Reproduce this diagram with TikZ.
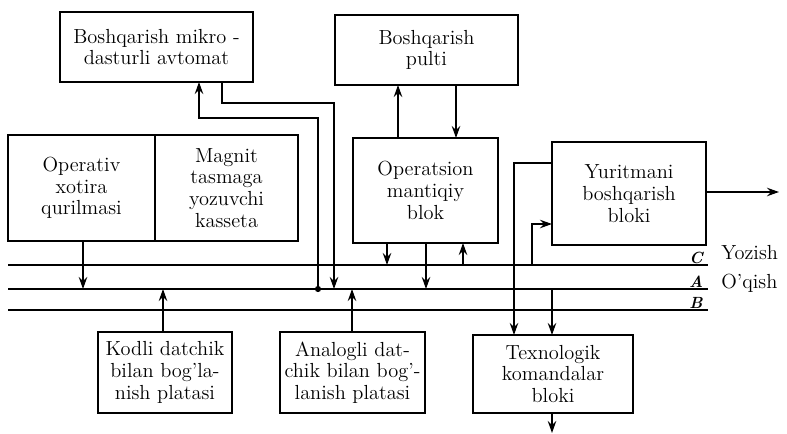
\documentclass[tikz,border=0pt]{standalone}
\usepackage{fontspec}
\usetikzlibrary{arrows.meta}
\usetikzlibrary{calc}

\begin{document}
\begin{tikzpicture}[x=0.025cm, y=-0.025cm,
    blok/.style={draw, line width=1.3pt, outer sep=0pt, align=center, inner sep=0pt, font=\fontsize{14.5}{15.5}\selectfont},
    strel/.style={line width=1.1pt, -{Stealth[length=8.5pt, width=6pt]}},
    shina/.style={line width=1.4pt},
    bukva/.style={anchor=south, inner sep=1pt, font=\bfseries\itshape\fontsize{11.5}{11.5}\selectfont},
    yozuv/.style={anchor=west, inner sep=0pt, font=\fontsize{14.5}{15.5}\selectfont}]
  \useasboundingbox (0,0) rectangle (787,433);

  % bloklar
  \node[blok, minimum width=4.825cm, minimum height=1.75cm] (mpa) at (156.5,47) {Boshqarish mikro -\\dasturli avtomat};
  \node[blok, minimum width=4.575cm, minimum height=1.75cm] (pult) at (426.5,50) {Boshqarish\\pulti};
  \node[blok, minimum width=3.675cm, minimum height=2.65cm] (oxq) at (81.5,188) {Operativ\\xotira\\qurilmasi};
  \node[blok, minimum width=3.575cm, minimum height=2.65cm, anchor=west] (mtk) at (oxq.east) {Magnit\\tasmaga\\yozuvchi\\kasseta};
  \node[blok, minimum width=3.625cm, minimum height=2.625cm] (oml) at (425.5,190.5) {Operatsion\\mantiqiy\\blok};
  \node[blok, minimum width=3.85cm, minimum height=2.575cm] (ybb) at (629,193.5) {Yuritmani\\boshqarish\\bloki};
  \node[blok, minimum width=3.35cm, minimum height=2.025cm] (kodli) at (165,372.5) {Kodli datchik\\bilan bog'la-\\nish platasi};
  \node[blok, minimum width=3.625cm, minimum height=2.025cm] (analog) at (352.5,372.5) {Analogli dat-\\chik bilan bog'-\\lanish platasi};
  \node[blok, minimum width=4cm, minimum height=1.95cm] (texn) at (553,374) {Texnologik\\komandalar\\bloki};

  % shinalar C, A, B
  \foreach \y/\b in {265/C, 289/A, 310/B} {
    \draw[shina] (8,\y) coordinate (bus\b) -- (708,\y) coordinate (bus\b e);
    \node[bukva] (harf\b) at (696,\y) {\b};
  }
  \node[yozuv] (yoz) at (721,253) {Yozish};
  \node[yozuv] (oqi) at (721,283) {O'qish};

  % ulanishlar
  \draw[strel] (oxq.south -| 83,0) -- (83,0 |- busA);
  \draw[strel] (kodli.north -| 163,0) -- (163,0 |- busA);
  \draw[strel] (analog.north -| 352,0) -- (352,0 |- busA);

  \coordinate (tug) at (318,0 |- busA);
  \fill (tug) circle (2.2pt);
  \draw[strel] (tug) |- (199,118) -- (mpa.south -| 199,0);
  \draw[strel] (mpa.south -| 222,0) |- (334,103) -- (334,0 |- busA);

  \draw[strel] (oml.north -| 398,0) -- (pult.south -| 398,0);
  \draw[strel] (pult.south -| 456,0) -- (oml.north -| 456,0);
  \draw[strel] (oml.south -| 387,0) -- (387,0 |- busC);
  \draw[strel] (oml.south -| 426,0) -- (426,0 |- busA);
  \draw[strel] (463,0 |- busC) -- (oml.south -| 463,0);

  \draw[strel] (ybb.west |- 0,163) -| (texn.north -| 514,0);
  \draw[strel] (532,0 |- busC) |- (ybb.west |- 0,224);
  \draw[strel] (552,0 |- busA) -- (texn.north -| 552,0);
  \coordinate (chiq1) at (779,0 |- 0,192);
  \coordinate (chiq2) at (552,0 |- 0,433);
  \draw[strel] (ybb.east |- chiq1) -- (chiq1);
  \draw[strel] (texn.south -| chiq2) -- (chiq2);
\end{tikzpicture}
\end{document}
